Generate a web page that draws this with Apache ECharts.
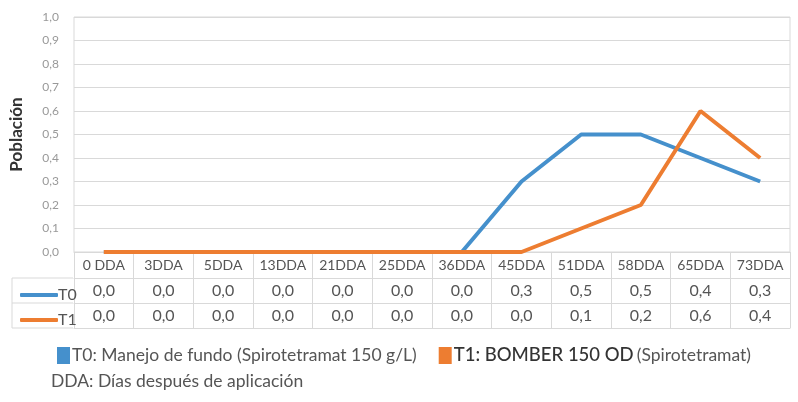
<!DOCTYPE html>
<html>
<head>
<meta charset="utf-8">
<script src="https://cdn.jsdelivr.net/npm/echarts@6/dist/echarts.min.js"></script>
<style>
html, body { margin: 0; padding: 0; background: #fff; }
#main { width: 798px; height: 402px; }
</style>
</head>
<body>
<div id="main"></div>
<script>
var categorias = ['0 DDA', '3DDA', '5DDA', '13DDA', '21DDA', '25DDA', '36DDA', '45DDA', '51DDA', '58DDA', '65DDA', '73DDA'];
var t0 = [0, 0, 0, 0, 0, 0, 0, 0.3, 0.5, 0.5, 0.4, 0.3];
var t1 = [0, 0, 0, 0, 0, 0, 0, 0, 0.1, 0.2, 0.6, 0.4];
var yTicks = [0, 0.1, 0.2, 0.3, 0.4, 0.5, 0.6, 0.7, 0.8, 0.9, 1.0];

var azul = '#4590cc';
var naranja = '#ed7d31';
var borde = '#d9d9d9';
var fuente = 'Lato';

function coma(v) { return v.toFixed(1).replace('.', ','); }

var chart = echarts.init(document.getElementById('main'));

// filas de la tabla de datos como ejes extra
function filaTabla(offset, valores) {
    return {
        type: 'category',
        gridIndex: 0,
        position: 'bottom',
        offset: offset,
        data: categorias,
        axisLine: { show: true, lineStyle: { color: borde, width: 1 } },
        axisTick: { show: valores != null, length: 25, interval: 0, lineStyle: { color: borde } },
        axisLabel: {
            show: valores != null,
            interval: 0,
            margin: 5,
            fontFamily: fuente,
            fontSize: 16,
            color: '#555',
            formatter: function (v, i) { return coma(valores[i]); }
        }
    };
}

var option = {
    animation: false,
    grid: { left: 73, right: 8, top: 17, bottom: 150, show: true, borderColor: borde, borderWidth: 1 },
    legend: [
        {
            orient: 'vertical',
            left: 15,
            top: 282,
            itemWidth: 38,
            itemHeight: 4,
            itemGap: 9,
            icon: 'roundRect',
            selectedMode: false,
            textStyle: { fontFamily: fuente, fontSize: 16, color: '#555', padding: [0, 0, 0, -5] },
            data: ['T0', 'T1']
        },
        {
            orient: 'horizontal',
            left: 52,
            top: 341,
            itemWidth: 13,
            itemHeight: 17,
            itemGap: 22,
            icon: 'rect',
            selectedMode: false,
            formatter: function (name) {
                if (name === 'T0') return '{n|T0: Manejo de fundo (Spirotetramat 150 g/L)}';
                return '{b|T1: BOMBER 150 OD} {n|(Spirotetramat)}';
            },
            textStyle: {
                fontFamily: fuente,
                padding: [0, 0, 0, -3],
                rich: {
                    n: { fontFamily: fuente, fontSize: 17.5, color: '#555' },
                    b: { fontFamily: fuente, fontSize: 18.5, color: '#333', fontWeight: 500 }
                }
            },
            data: ['T0', 'T1']
        }
    ],
    graphic: [
        { type: 'line', shape: { x1: 12, y1: 278, x2: 73, y2: 278 }, style: { stroke: borde, lineWidth: 1 } },
        { type: 'line', shape: { x1: 12, y1: 303, x2: 73, y2: 303 }, style: { stroke: borde, lineWidth: 1 } },
        { type: 'line', shape: { x1: 12, y1: 328, x2: 73, y2: 328 }, style: { stroke: borde, lineWidth: 1 } },
        { type: 'line', shape: { x1: 12, y1: 278, x2: 12, y2: 328 }, style: { stroke: borde, lineWidth: 1 } },
        {
            type: 'text', left: 51, top: 372,
            style: { text: 'DDA: Días después de aplicación', font: '17.5px Lato', fill: '#555' }
        }
    ],
    xAxis: [
        {
            type: 'category',
            data: categorias,
            boundaryGap: true,
            axisLine: { show: true, lineStyle: { color: borde, width: 1 } },
            axisTick: { show: true, length: 26, interval: 0, lineStyle: { color: borde } },
            axisLabel: { interval: 0, margin: 6, fontFamily: fuente, fontSize: 14, color: '#555' }
        },
        filaTabla(26, t0),
        filaTabla(51, t1),
        filaTabla(76, null)
    ],
    yAxis: {
        type: 'value',
        min: yTicks[0],
        max: yTicks[yTicks.length - 1],
        interval: 0.1,
        name: 'Población',
        nameLocation: 'middle',
        nameGap: 49,
        nameRotate: 90,
        nameTextStyle: { fontFamily: fuente, fontSize: 17, fontWeight: 'bold', color: '#333' },
        axisLine: { show: false },
        axisTick: { show: false },
        axisLabel: { margin: 15, fontFamily: fuente, fontSize: 12, color: '#999', formatter: function (v) { return coma(v); } },
        splitLine: { lineStyle: { color: borde, width: 1 } }
    },
    series: [
        {
            name: 'T0',
            type: 'line',
            data: t0,
            symbol: 'none',
            itemStyle: { color: azul },
            lineStyle: { color: azul, width: 4 }
        },
        {
            name: 'T1',
            type: 'line',
            data: t1,
            symbol: 'none',
            itemStyle: { color: naranja },
            lineStyle: { color: naranja, width: 4 }
        }
    ]
};
chart.setOption(option);
</script>
</body>
</html>
